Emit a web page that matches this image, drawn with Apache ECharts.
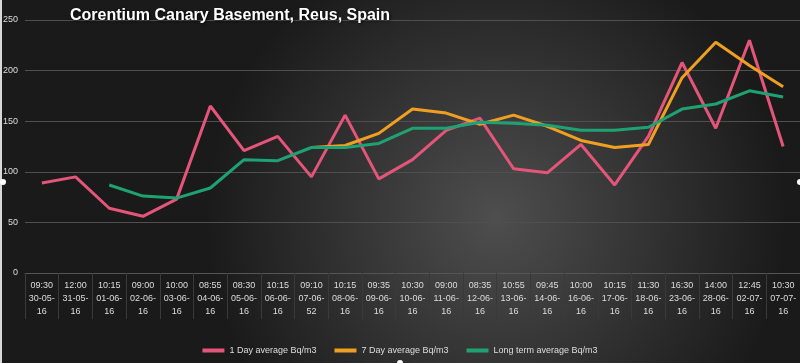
<!DOCTYPE html>
<html>
<head>
<meta charset="utf-8">
<script src="https://cdn.jsdelivr.net/npm/echarts@6/dist/echarts.min.js"></script>
<style>html,body{margin:0;padding:0;background:#1c1c1c;}#c{width:800px;height:363px;}</style>
</head>
<body>
<div id="c"></div>
<script>
const times = ["09:30","12:00","10:15","09:00","10:00","08:55","08:30","10:15","09:10","10:15","09:35","10:30","09:00","08:35","10:55","09:45","10:00","10:15","11:30","16:30","14:00","12:45","10:30"];
const dates = ["30-05-16","31-05-16","01-06-16","02-06-16","03-06-16","04-06-16","05-06-16","06-06-16","07-06-52","08-06-16","09-06-16","10-06-16","11-06-16","12-06-16","13-06-16","14-06-16","16-06-16","17-06-16","18-06-16","23-06-16","28-06-16","02-07-16","07-07-16"];
const oneDay = [89,95,64,56,73,165,121,135,95,156,93,112,141,153,103,99,127,87,135,208,143,230,125];
const sevenDay = [null,null,null,null,null,null,null,null,124,126,138,162,158,147,156,145,131,124,127,193,228,205,184];
const longTerm = [null,null,87,76,74,84,112,111,124,124,128,143,143,149,148,146,141,141,144,162,167,180,174];
const yTicks = [0,50,100,150,200,250];

const categories = times.map((t, i) => t + '\n' + dates[i].slice(0, 6) + '\n' + dates[i].slice(6));

const chart = echarts.init(document.getElementById('c'), null, {renderer: 'canvas'});
chart.setOption({
  animation: false,
  backgroundColor: {
    type: 'radial', x: 0.62, y: 0.6, r: 0.8,
    colorStops: [{offset: 0, color: '#4e4e4e'}, {offset: 0.5, color: '#343434'}, {offset: 1, color: '#1a1a1a'}]
  },
  title: {
    text: 'Corentium Canary Basement, Reus, Spain',
    left: 65, top: 3,
    textStyle: {color: '#ffffff', fontSize: 16, fontWeight: 'bold', fontFamily: 'Liberation Sans, Arial, sans-serif',
      textShadowColor: 'rgba(0,0,0,0.8)', textShadowBlur: 3, textShadowOffsetX: 1, textShadowOffsetY: 1}
  },
  grid: {left: 25, top: 20, width: 777, height: 253, containLabel: false},
  legend: {
    bottom: 3, left: 'center',
    itemWidth: 22, itemHeight: 4, itemGap: 18, icon: 'rect',
    textStyle: {color: '#dddddd', fontSize: 9, fontFamily: 'Liberation Sans, Arial, sans-serif'},
    data: ['1 Day average Bq/m3', '7 Day average Bq/m3', 'Long term average Bq/m3']
  },
  xAxis: {
    type: 'category', data: categories, boundaryGap: true,
    axisLine: {show: true, lineStyle: {color: '#555555'}},
    axisTick: {show: true, interval: 0, length: 46, lineStyle: {color: '#3a3a3a'}},
    axisLabel: {interval: 0, color: '#dddddd', fontSize: 9, lineHeight: 13, margin: 6,
      fontFamily: 'Liberation Sans, Arial, sans-serif'},
    splitLine: {show: false}
  },
  yAxis: {
    type: 'value', min: yTicks[0], max: yTicks[yTicks.length - 1], interval: 50,
    axisLine: {show: false}, axisTick: {show: false},
    axisLabel: {color: '#dddddd', fontSize: 9, margin: 7, fontFamily: 'Liberation Sans, Arial, sans-serif'},
    splitLine: {show: true, lineStyle: {color: '#4f4f4f', width: 1}}
  },
  series: [
    {name: '1 Day average Bq/m3', type: 'line', data: oneDay, symbol: 'none', connectNulls: false,
      lineStyle: {width: 3, color: '#e5557a'}, itemStyle: {color: '#e5557a'}},
    {name: '7 Day average Bq/m3', type: 'line', data: sevenDay, symbol: 'none',
      lineStyle: {width: 3, color: '#f0a020'}, itemStyle: {color: '#f0a020'}},
    {name: 'Long term average Bq/m3', type: 'line', data: longTerm, symbol: 'none',
      lineStyle: {width: 3, color: '#1fa273'}, itemStyle: {color: '#1fa273'}}
  ],
  graphic: [
    {type: 'rect', shape: {x: 0, y: 0, width: 2, height: 363}, style: {fill: '#d8d8d8'}, silent: true},
    {type: 'circle', shape: {cx: 3, cy: 182, r: 3}, style: {fill: '#ffffff'}, silent: true},
    {type: 'circle', shape: {cx: 800, cy: 182, r: 3}, style: {fill: '#ffffff'}, silent: true},
    {type: 'circle', shape: {cx: 400, cy: 363, r: 3}, style: {fill: '#ffffff'}, silent: true}
  ]
});
</script>
</body>
</html>
